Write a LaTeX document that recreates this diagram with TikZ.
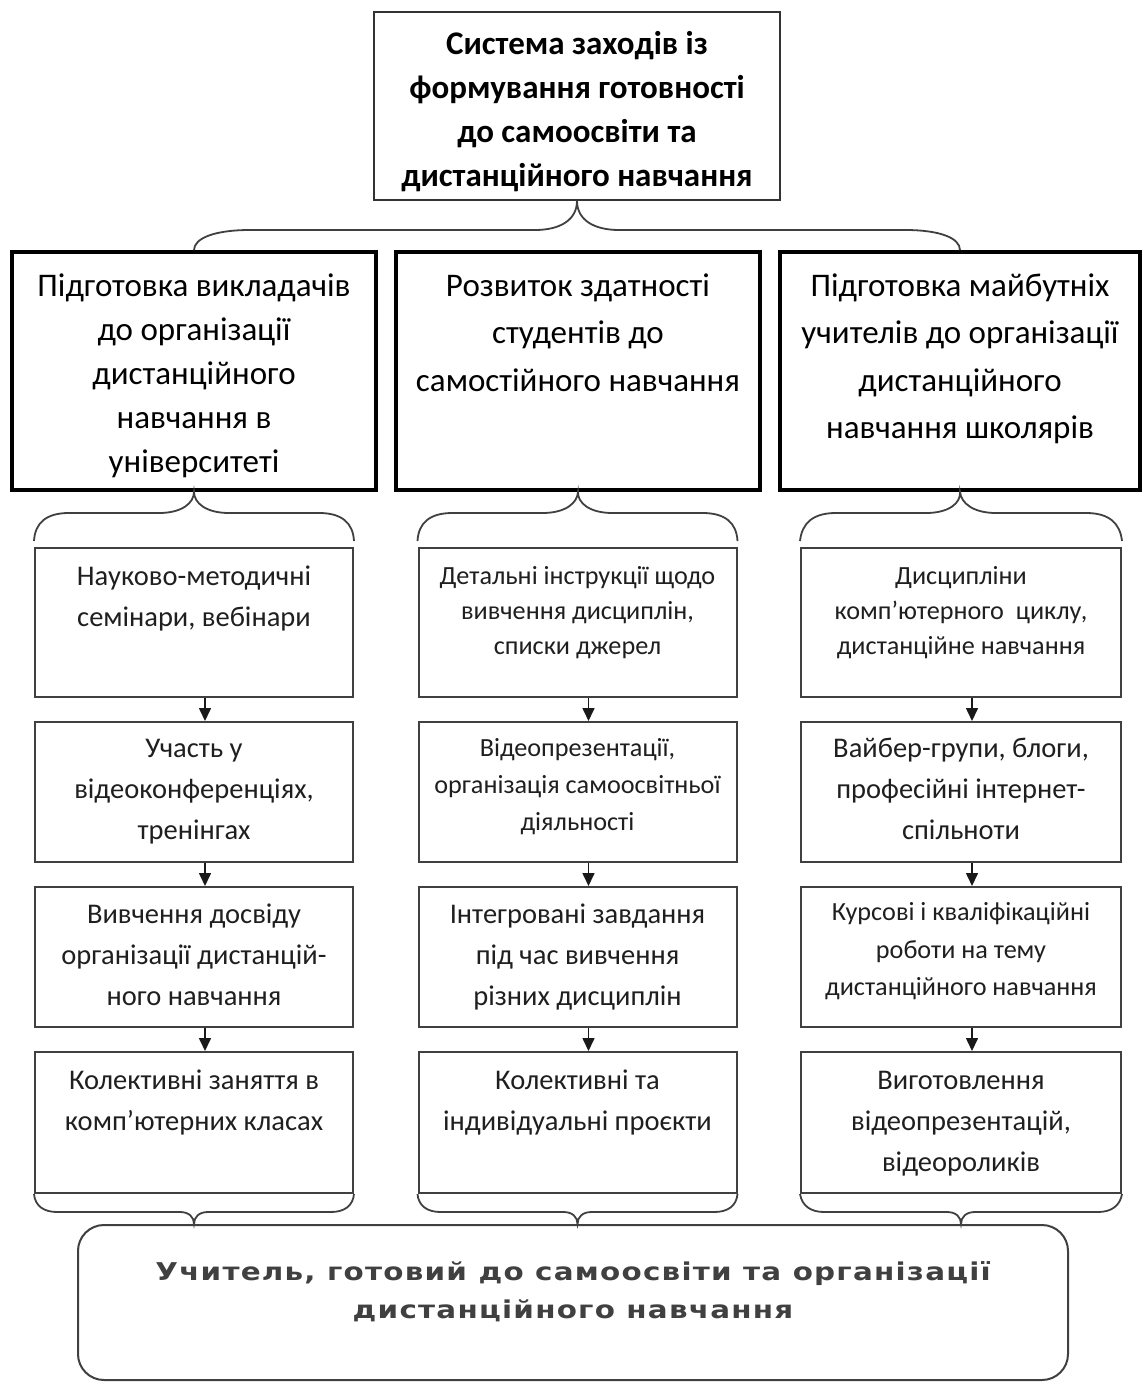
\documentclass[tikz,border=0pt]{standalone}
\usepackage{fontspec}
\setmainfont{Carlito}
\newfontfamily\wideface[FakeStretch=1.2,LetterSpace=5]{DejaVu Sans}
\usetikzlibrary{arrows.meta,calc}
\newcommand{\bxt}[4]{\parbox[c][#2pt][t]{#1pt}{\centering\rule{0pt}{#3pt}#4\par}}
\tikzset{
  topbox/.style={draw=black!80, line width=1.6pt, inner sep=0pt, font=\bfseries\fontsize{33}{44}\selectfont},
  headbox/.style={draw=black, line width=3.6pt, inner sep=0pt, font=\fontsize{33}{44}\selectfont},
  itembox/.style={draw=black!75, line width=2pt, inner sep=0pt, text=black!88, font=\fontsize{28.5}{41}\selectfont},
  smallitem/.style={itembox, font=\fontsize{26.2}{35}\selectfont},
  resultbox/.style={draw=black!75, line width=2pt, rounded corners=26pt, inner sep=0pt, text=black!75, font=\wideface\bfseries\fontsize{24.5}{38}\selectfont},
  flow/.style={-{Triangle[length=13pt,width=12pt]}, line width=1.6pt, draw=black!90},
  brace/.style={draw=black!75, line width=1.8pt},
}
\begin{document}
\begin{tikzpicture}[x=1pt,y=1pt]
\fill[white] (0,0) rectangle (1144,-1383);
\useasboundingbox (0,0) rectangle (1144,-1383);

\node[topbox] (top) at (577,-106) {\bxt{406}{188}{43}{Система заходів із\\формування готовності\\до самоосвіти та\\дистанційного навчання}};

\node[headbox] (m1) at (194,-371) {\bxt{364}{238}{44}{Підготовка викладачів\\до організації\\дистанційного\\навчання в\\університеті}};
\node[headbox, font=\fontsize{33}{47.5}\selectfont] (m2) at (578,-371) {\bxt{364}{238}{44}{Розвиток здатності\\студентів до\\самостійного навчання}};
\node[headbox, font=\fontsize{33}{47.5}\selectfont] (m3) at (960,-371) {\bxt{360}{238}{44}{Підготовка майбутніх\\учителів до організації\\дистанційного\\навчання школярів}};

% column 1
\node[itembox] (a1) at (194,-622.5) {\bxt{318}{149}{37}{Науково-методичні\\семінари, вебінари}};
\node[itembox] (b1) at (194,-792) {\bxt{318}{140}{35}{Участь у\\відеоконференціях,\\тренінгах}};
\node[itembox] (c1) at (194,-957) {\bxt{318}{140}{36}{Вивчення досвіду\\організації дистанцій-\\ного навчання}};
\node[itembox] (d1) at (194,-1122.5) {\bxt{318}{141}{37}{Колективні заняття в\\комп’ютерних класах}};
% column 2
\node[smallitem] (a2) at (577.5,-622.5) {\bxt{318}{149}{36.5}{Детальні інструкції щодо\\вивчення дисциплін,\\списки джерел}};
\node[smallitem, font=\fontsize{26.2}{37}\selectfont] (b2) at (577.5,-792) {\bxt{318}{140}{34.5}{Відеопрезентації,\\організація самоосвітньої\\діяльності}};
\node[itembox] (c2) at (577.5,-957) {\bxt{318}{140}{36}{Інтегровані завдання\\під час вивчення\\різних дисциплін}};
\node[itembox] (d2) at (577.5,-1122.5) {\bxt{318}{141}{37}{Колективні та\\індивідуальні проєкти}};
% column 3
\node[smallitem] (a3) at (961,-622.5) {\bxt{320}{149}{36.5}{Дисципліни\\комп’ютерного\ \ циклу,\\дистанційне навчання}};
\node[itembox] (b3) at (961,-792) {\bxt{320}{140}{35}{Вайбер-групи, блоги,\\професійні інтернет-\\спільноти}};
\node[smallitem, font=\fontsize{26.2}{37.5}\selectfont] (c3) at (961,-957) {\bxt{320}{140}{33.5}{Курсові і кваліфікаційні\\роботи на тему\\дистанційного навчання}};
\node[itembox] (d3) at (961,-1122.5) {\bxt{320}{141}{37}{Виготовлення\\відеопрезентацій,\\відеороликів}};

\node[resultbox] (res) at (573,-1302.5) {\bxt{990}{155}{55}{Учитель, готовий до самоосвіти та організації\\дистанційного навчання}};

% top brace
\draw[brace] (m1.north) .. controls (194,-238) and (215,-230) .. (250,-230) -- (535,-230)
  .. controls (560,-230) and (577,-220) .. (top.south)
  .. controls (577,-220) and (594,-230) .. (619,-230) -- (905,-230)
  .. controls (940,-230) and (960,-238) .. (m3.north);

\foreach \i/\xc in {1/194,2/577.5,3/961} {
  % braces under the headings
  \draw[brace] ($(a\i.north west)+(0,6)$) .. controls (\xc-159,-523) and (\xc-148,-513) .. (\xc-125,-513)
    -- (\xc-35,-513) .. controls (\xc-12,-513) and (\xc,-503) .. (m\i.south)
    .. controls (\xc,-503) and (\xc+12,-513) .. (\xc+35,-513) -- (\xc+125,-513)
    .. controls (\xc+148,-513) and (\xc+159,-523) .. ($(a\i.north east)+(0,6)$);
  % arrows
  \draw[flow] ([xshift=11pt]a\i.south) -- ([xshift=11pt]b\i.north);
  \draw[flow] ([xshift=11pt]b\i.south) -- ([xshift=11pt]c\i.north);
  \draw[flow] ([xshift=11pt]c\i.south) -- ([xshift=11pt]d\i.north);
  % braces above the result
  \draw[brace] (d\i.south west) .. controls (\xc-159,-1206) and (\xc-150,-1212) .. (\xc-137,-1212)
    -- (\xc-14,-1212) .. controls (\xc-5,-1212) and (\xc,-1217) .. (d\i.south |- res.north)
    .. controls (\xc,-1217) and (\xc+5,-1212) .. (\xc+14,-1212) -- (\xc+137,-1212)
    .. controls (\xc+150,-1212) and (\xc+159,-1206) .. (d\i.south east);
}
\end{tikzpicture}
\end{document}
